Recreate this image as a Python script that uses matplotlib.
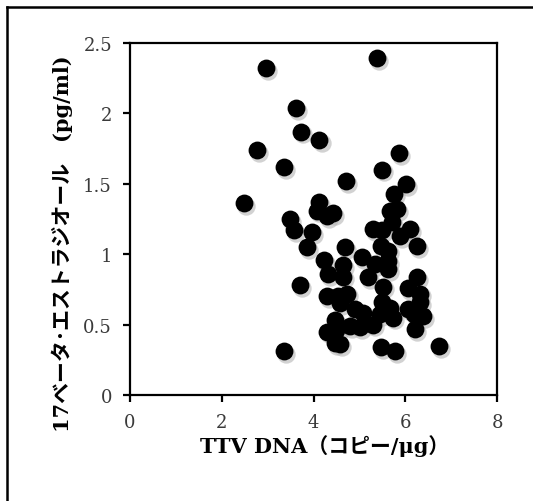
import matplotlib
matplotlib.use("Agg")
import matplotlib.pyplot as plt
import matplotlib.transforms as mtransforms
from matplotlib.lines import Line2D

# TTV DNA (copies/ug) vs 17-beta estradiol (pg/ml)
ttv_dna = [2.96, 5.38, 3.61, 3.73, 4.13, 2.76, 5.87, 3.36, 5.49, 4.71,
           6.02, 5.75, 2.49, 4.12, 4.07, 4.29, 4.43, 5.67, 5.81, 3.49,
           3.57, 3.96, 5.30, 5.49, 5.70, 6.10, 5.89, 6.25, 3.85, 4.69,
           5.47, 5.63, 4.23, 5.06, 4.64, 5.34, 5.62, 5.63, 4.32, 4.65,
           5.19, 6.25, 3.71, 5.52, 6.05, 4.29, 4.54, 4.72, 6.32, 4.58,
           5.49, 5.67, 4.90, 5.07, 6.07, 6.32, 5.45, 5.74, 6.39, 6.18,
           4.47, 4.80, 5.01, 5.30, 4.29, 4.50, 6.21, 4.47, 4.58, 3.36,
           5.47, 5.78, 6.74]
estradiol = [2.32, 2.39, 2.04, 1.87, 1.81, 1.74, 1.72, 1.62, 1.60, 1.52,
             1.50, 1.43, 1.36, 1.37, 1.31, 1.27, 1.29, 1.31, 1.32, 1.25,
             1.17, 1.155, 1.18, 1.17, 1.23, 1.18, 1.13, 1.06, 1.05, 1.05,
             1.06, 1.025, 0.96, 0.98, 0.92, 0.93, 0.95, 0.895, 0.86, 0.84,
             0.835, 0.835, 0.78, 0.77, 0.76, 0.70, 0.705, 0.72, 0.72, 0.65,
             0.66, 0.62, 0.61, 0.585, 0.61, 0.66, 0.575, 0.55, 0.56, 0.575,
             0.53, 0.49, 0.48, 0.50, 0.45, 0.46, 0.47, 0.37, 0.36, 0.31,
             0.34, 0.31, 0.345]

xticks = [0, 2, 4, 6, 8]
yticks = [0, 0.5, 1, 1.5, 2, 2.5]
ytick_labels = ["0", "0.5", "1", "1.5", "2", "2.5"]

fonts = ["DejaVu Serif", "Noto Sans CJK JP"]

fig = plt.figure(figsize=(5.33, 5.02), dpi=100)
ax = fig.add_axes([0.2439, 0.2112, 0.6886, 0.7012])

# soft drop shadow under the markers
shadow = mtransforms.offset_copy(ax.transData, fig=fig, x=1.5, y=-2, units="points")
ax.scatter(ttv_dna, estradiol, s=175, color="#b5b5b5", alpha=0.6,
           linewidths=0, transform=shadow, zorder=2)
ax.scatter(ttv_dna, estradiol, s=165, color="black", linewidths=0, zorder=3)

ax.set_xlim(0, 8)
ax.set_ylim(0, 2.5)
ax.set_xticks(xticks)
ax.set_yticks(yticks)
ax.set_yticklabels(ytick_labels)

for s in ax.spines.values():
    s.set_linewidth(1.6)
ax.tick_params(direction="out", length=5, width=1.6, labelsize=13, pad=8,
               colors="black")
for lab in ax.get_xticklabels() + ax.get_yticklabels():
    lab.set_family(fonts)
    lab.set_color("#3a3a3a")

ax.set_xlabel("TTV DNA（コピー/μg）", family=fonts, fontsize=15,
              fontweight="bold", va="center")
ax.xaxis.set_label_coords(0.531, -0.142)
ax.set_ylabel("17ベータ･エストラジオール　(pg/ml)", family=fonts,
              fontsize=15, fontweight="bold", va="center")
ax.yaxis.set_label_coords(-0.185, 0.432)

# outer frame (only top and left edges are inside the picture)
W, H = 533, 502
fig.add_artist(Line2D([7 / W, 1.0], [1 - 8 / H, 1 - 8 / H], color="black",
                      lw=1.8, transform=fig.transFigure))
fig.add_artist(Line2D([7 / W, 7 / W], [1 - 8 / H, 0.0], color="black",
                      lw=1.8, transform=fig.transFigure))

fig.savefig("out.png", dpi=100)
